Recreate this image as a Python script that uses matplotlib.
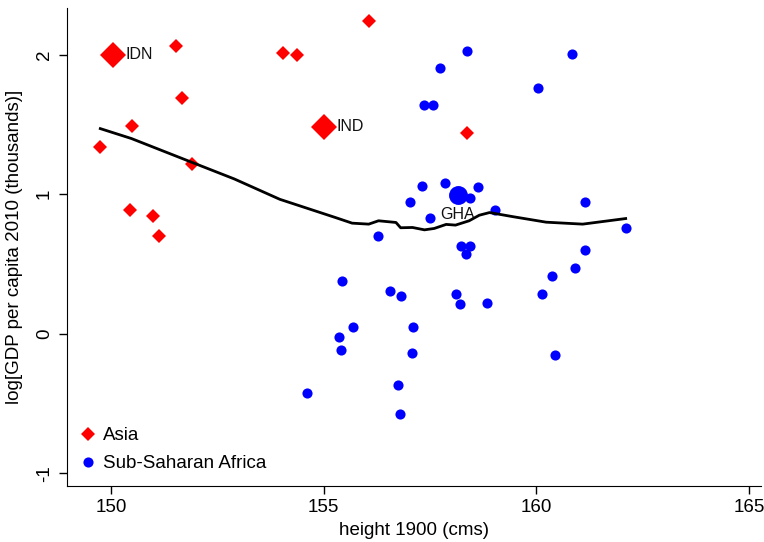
import matplotlib
matplotlib.use("Agg")
import matplotlib.pyplot as plt

plt.rcParams['font.family'] = ['Liberation Sans', 'DejaVu Sans']

# Asia (red diamonds): height 1900 (cms), log GDP per capita 2010
asia_height = [149.75, 150.49, 151.53, 151.67, 151.90, 150.45, 151.00, 151.13,
               154.04, 154.37, 156.06, 158.36]
asia_gdp = [1.336, 1.49, 2.064, 1.69, 1.22, 0.886, 0.843, 0.70,
            2.014, 2.0, 2.243, 1.436]

# Asia highlighted countries
asia_big_label = ["IDN", "IND"]
asia_big_height = [150.05, 155.00]
asia_big_gdp = [2.0, 1.486]

# Sub-Saharan Africa (blue circles)
africa_height = [158.36, 160.85, 157.73, 160.03, 157.36, 157.56, 157.32, 157.85,
                 158.63, 158.44, 157.03, 157.51, 159.02, 161.15, 162.11, 156.28,
                 158.24, 158.45, 158.34, 161.15, 160.90, 160.38, 160.14, 155.43,
                 156.55, 156.82, 158.10, 158.21, 158.83, 155.70, 157.10, 155.35,
                 155.40, 157.08, 160.45, 154.62, 156.75, 156.80]
africa_gdp = [2.024, 2.007, 1.905, 1.762, 1.638, 1.638, 1.06, 1.081,
              1.052, 0.971, 0.945, 0.829, 0.888, 0.943, 0.757, 0.698,
              0.626, 0.626, 0.574, 0.598, 0.474, 0.414, 0.288, 0.379,
              0.31, 0.269, 0.286, 0.212, 0.221, 0.048, 0.045, -0.026,
              -0.12, -0.136, -0.15, -0.426, -0.369, -0.579]

africa_big_label = ["GHA"]
africa_big_height = [158.15]
africa_big_gdp = [0.995]

# lowess smoother
fit_height = [149.75, 150.48, 151.93, 152.9, 153.97, 155.28, 155.67, 156.06, 156.29,
              156.7, 156.81, 157.09, 157.37, 157.6, 157.88, 158.1, 158.42,
              158.66, 158.9, 159.44, 160.23, 161.09, 162.1]
fit_gdp = [1.471, 1.40, 1.226, 1.11, 0.964, 0.833, 0.793, 0.786, 0.81,
           0.798, 0.76, 0.762, 0.745, 0.755, 0.784, 0.779, 0.81,
           0.85, 0.869, 0.84, 0.80, 0.786, 0.826]

fig = plt.figure(figsize=(7.64, 5.42), dpi=100)
ax = fig.add_axes([0.0873, 0.1033, 0.9087, 0.8817])

red = '#ff0000'
blue = '#0000ff'

ax.plot(asia_height, asia_gdp, 'D', color=red, markersize=7.1, markeredgewidth=0,
        label='Asia', zorder=3)
ax.plot(asia_big_height, asia_big_gdp, 'D', color=red, markersize=13.7,
        markeredgewidth=0, zorder=3)
ax.plot(africa_height, africa_gdp, 'o', color=blue, markersize=7.3, markeredgewidth=0,
        label='Sub-Saharan Africa', zorder=3)
ax.plot(africa_big_height, africa_big_gdp, 'o', color=blue, markersize=13.6,
        markeredgewidth=0, zorder=3)

for lab, hx, gy in zip(asia_big_label, asia_big_height, asia_big_gdp):
    ax.annotate(lab, (hx, gy), xytext=(9, 0), textcoords='offset points',
                ha='left', va='center', fontsize=11.5, color='#111111', zorder=4)
for lab, hx, gy in zip(africa_big_label, africa_big_height, africa_big_gdp):
    ax.annotate(lab, (hx, gy), xytext=(0, -14), textcoords='offset points',
                ha='center', va='center', fontsize=11.5, color='#111111', zorder=4)

ax.plot(fit_height, fit_gdp, '-', color='black', linewidth=2, zorder=5)

ax.set_xlim(148.96, 165.28)
ax.set_ylim(-1.092, 2.335)
ax.set_xticks([150, 155, 160, 165])
ax.set_yticks([-1, 0, 1, 2])
ax.set_yticklabels(['-1', '0', '1', '2'], rotation=90, va='center')

ax.spines['top'].set_visible(False)
ax.spines['right'].set_visible(False)
ax.tick_params(axis='both', direction='out', length=6, width=1, labelsize=13.5,
               colors='black')
ax.tick_params(axis='y', pad=4)

ax.set_xlabel('height 1900 (cms)', fontsize=13.5, labelpad=4)
ax.set_ylabel('log[GDP per capita 2010 (thousands)]', fontsize=13.5, labelpad=9)

leg = ax.legend(loc='lower left', bbox_to_anchor=(0.003, 0.005), frameon=False,
                fontsize=13.5, handletextpad=0.45, labelspacing=0.58,
                handlelength=0.8, borderaxespad=0.2, borderpad=0.4)

fig.savefig('out.png', dpi=100)
